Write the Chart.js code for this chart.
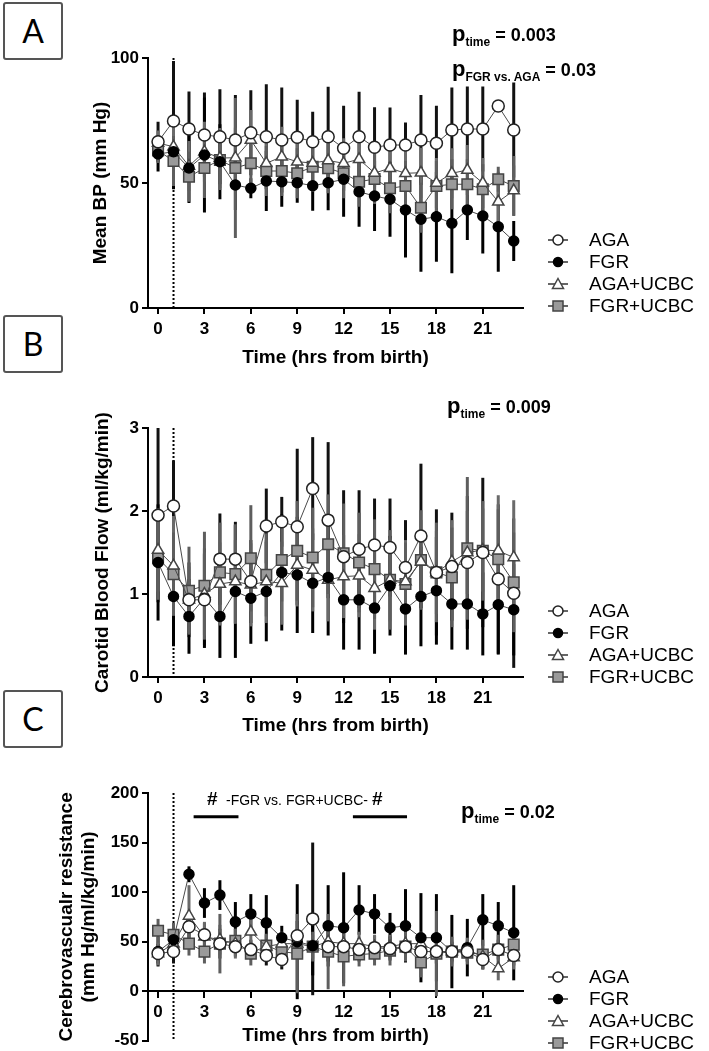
<!DOCTYPE html>
<html>
<head>
<meta charset="utf-8">
<script src="https://cdn.jsdelivr.net/npm/chart.js@4.4.1/dist/chart.umd.min.js"></script>
<style>
  body { margin: 0; background: #fff; width: 709px; height: 1051px; position: relative; overflow: hidden;
         font-family: "Liberation Sans", Arial, sans-serif; color: #000; }
  canvas { position: absolute; left: 0; }
  .box { position: absolute; left: 3px; width: 56px; height: 54px; border: 2px solid #555; border-radius: 3px;
         font-family: Lato, "Open Sans", sans-serif; font-size: 32px; text-align: center; line-height: 54px; }
  .p { position: absolute; font-weight: bold; font-size: 18px; white-space: nowrap; line-height: 22px; }
  .p .pp { font-size: 22px; }
  .p sub { font-size: 12px; vertical-align: -5px; }
  .legend { position: absolute; left: 548px; font-size: 19px; }
  .legend div { height: 22px; display: flex; align-items: center; white-space: nowrap; }
  .legend svg { margin-right: 21px; }
  .sig { position: absolute; white-space: nowrap; }
</style>
</head>
<body>

<div class="box" style="top:2px">A</div>
<div class="box" style="top:315px">B</div>
<div class="box" style="top:690px">C</div>

<canvas id="chartA" width="709" height="369" style="top:0px"></canvas>
<canvas id="chartB" width="709" height="368" style="top:369px"></canvas>
<canvas id="chartC" width="709" height="320" style="top:734px"></canvas>

<div class="p" style="left:452px; top:23px"><span class="pp">p</span><sub>time</sub> = 0.003</div>
<div class="p" style="left:452px; top:58px"><span class="pp">p</span><sub>FGR vs. AGA</sub> = 0.03</div>
<div class="p" style="left:447px; top:395px"><span class="pp">p</span><sub>time</sub> = 0.009</div>
<div class="p" style="left:461px; top:800px"><span class="pp">p</span><sub>time</sub> = 0.02</div>

<div class="sig" style="left:207px; top:788px; font-weight:bold; font-size:19px">#</div>
<div class="sig" style="left:226px; top:792px; font-size:14px">-FGR vs. FGR+UCBC-</div>
<div class="sig" style="left:372px; top:788px; font-weight:bold; font-size:19px">#</div>

<div class="legend" id="legA" style="top:229px"></div>
<div class="legend" id="legB" style="top:600px"></div>
<div class="legend" id="legC" style="top:966px"></div>

<script>
// Sampling hours and axis ticks
const hours = [0, 1, 2, 3, 4, 5, 6, 7, 8, 9, 10, 11, 12, 13, 14, 15, 16, 17, 18, 19, 20, 21, 22, 23];
const xTicks = [0, 3, 6, 9, 12, 15, 18, 21];
const seriesNames = ['AGA', 'FGR', 'AGA+UCBC', 'FGR+UCBC'];

// Panel A: mean BP (mm Hg), mean and SD
const bpAGA  = [66.5, 74.8, 71.6, 69.2, 68.5, 67.2, 70.1, 68.5, 67.2, 68.3, 66.5, 68.5, 63.9, 68.5, 64.3, 65.2, 65.2, 67.2, 65.9, 71.2, 71.6, 71.6, 80.8, 71.2];
const bpFGR  = [61.6, 62.5, 56.0, 61.2, 58.5, 49.2, 47.9, 50.8, 50.5, 50.1, 48.9, 50.1, 51.5, 46.5, 44.8, 43.5, 39.2, 35.5, 36.5, 33.9, 39.2, 36.8, 32.5, 26.8];
const bpAGAU = [66.0, 64.5, 56.8, 62.5, 60.0, 60.1, 67.2, 57.9, 60.5, 58.5, 58.0, 59.0, 57.9, 59.5, 54.0, 55.9, 53.9, 54.1, 50.0, 53.9, 55.2, 50.0, 42.5, 47.0];
const bpFGRU = [63.0, 58.8, 52.5, 56.0, 59.2, 56.0, 57.9, 54.8, 54.8, 53.9, 56.5, 55.9, 53.9, 50.5, 51.6, 47.9, 48.8, 40.1, 48.8, 49.5, 49.5, 47.5, 51.5, 48.8];
const bpAGAsd  = [8, 24, 15, 17, 19, 18, 17, 21, 21, 15, 12, 20, 17, 18, 16, 15, 9, 18, 15, 17, 17, 17, 0, 19];
const bpFGRsd  = [7, 15, 14, 23, 15, 10, 4, 12, 10, 8, 10, 11, 15, 14, 14, 15, 19, 21, 18, 20, 12, 15, 18, 8];
const bpAGAUsd = [5, 12, 10, 12, 12, 12, 12, 10, 12, 10, 10, 10, 10, 10, 10, 10, 10, 10, 10, 10, 10, 10, 12, 10];
const bpFGRUsd = [5, 10, 10, 12, 12, 28, 10, 10, 10, 10, 10, 10, 10, 10, 10, 10, 10, 10, 10, 10, 10, 10, 5, 12];

// Panel B: carotid blood flow (ml/kg/min)
const cbfAGA  = [1.95, 2.06, 0.93, 0.93, 1.42, 1.42, 1.15, 1.82, 1.87, 1.81, 2.27, 1.89, 1.45, 1.54, 1.59, 1.56, 1.32, 1.70, 1.26, 1.33, 1.38, 1.50, 1.18, 1.01];
const cbfFGR  = [1.38, 0.97, 0.73, 0.95, 0.73, 1.03, 0.95, 1.03, 1.26, 1.23, 1.13, 1.20, 0.93, 0.93, 0.83, 1.10, 0.82, 0.97, 1.04, 0.88, 0.88, 0.76, 0.87, 0.81];
const cbfAGAU = [1.53, 1.34, 0.93, 1.00, 1.12, 1.15, 1.11, 1.15, 1.13, 1.35, 1.29, 1.17, 1.21, 1.22, 1.07, 1.17, 1.15, 1.39, 1.26, 1.39, 1.50, 1.53, 1.52, 1.44];
const cbfFGRU = [1.43, 1.24, 1.04, 1.10, 1.26, 1.24, 1.43, 1.23, 1.41, 1.52, 1.44, 1.60, 1.49, 1.38, 1.30, 1.17, 1.12, 1.41, 1.26, 1.20, 1.55, 1.52, 1.42, 1.14];
const cbfAGAsd  = [1.05, 0.55, 0.45, 0.55, 0.55, 0.45, 0.5, 0.45, 0.3, 0.94, 0.62, 0.94, 0.8, 0.71, 0.56, 0.59, 0.57, 0.87, 0.76, 0.65, 0.8, 0.9, 0.9, 0.9];
const cbfFGRsd  = [0.7, 0.6, 0.45, 0.6, 0.5, 0.8, 0.55, 0.6, 0.7, 0.7, 0.6, 0.7, 0.6, 0.6, 0.55, 0.6, 0.55, 0.6, 0.65, 0.55, 0.55, 0.5, 0.6, 0.55];
const cbfAGAUsd = [0.5, 0.6, 0.4, 0.5, 0.5, 0.5, 0.5, 0.5, 0.5, 0.5, 0.5, 0.5, 0.5, 0.5, 0.5, 0.5, 0.5, 0.5, 0.5, 0.5, 0.5, 0.5, 0.67, 0.69];
const cbfFGRUsd = [0.5, 0.5, 0.53, 0.65, 0.6, 0.6, 0.64, 0.5, 0.5, 0.6, 0.6, 0.6, 0.6, 0.6, 0.6, 0.6, 0.5, 0.6, 0.6, 0.6, 0.86, 0.6, 0.6, 0.6];

// Panel C: cerebrovascular resistance (mm Hg/ml/kg/min)
const cvrAGA  = [38, 40, 65, 57, 48, 45, 42, 36, 32, 56, 73, 45, 45, 42, 44, 43, 45, 40, 40, 40, 40, 32, 42, 36];
const cvrFGR  = [40, 52, 118, 89, 97, 70, 78, 69, 54, 50, 46, 66, 64, 82, 78, 64, 66, 54, 54, 40, 44, 72, 66, 59];
const cvrAGAU = [38, 48, 76, 55, 52, 48, 60, 45, 48, 48, 45, 50, 48, 48, 45, 45, 48, 48, 40, 40, 42, 35, 23, 34];
const cvrFGRU = [61, 57, 48, 40, 48, 51, 38, 46, 40, 38, 45, 40, 35, 37, 38, 41, 45, 29, 38, 40, 39, 37, 42, 47];
const cvrAGAsd  = [10, 12, 15, 12, 15, 10, 10, 10, 10, 15, 77, 15, 15, 12, 12, 12, 12, 12, 12, 10, 10, 10, 10, 10];
const cvrFGRsd  = [15, 15, 8, 15, 15, 20, 20, 28, 12, 58, 30, 41, 56, 25, 20, 15, 37, 45, 44, 37, 29, 26, 24, 48];
const cvrAGAUsd = [12, 12, 31, 15, 15, 15, 15, 12, 12, 12, 12, 12, 12, 12, 12, 12, 12, 12, 12, 12, 12, 12, 12, 12];
const cvrFGRUsd = [12, 12, 12, 12, 30, 12, 12, 12, 15, 40, 15, 38, 30, 12, 12, 15, 15, 15, 43, 15, 12, 15, 15, 15];

// "#" brackets in panel C (FGR vs. FGR+UCBC), in hours and value units
const sigBars = [[2.3, 5.2, 176], [12.6, 16.1, 176]];

const FONT = '"Liberation Sans", Arial, sans-serif';

const seriesStyle = [
    { pointStyle: 'circle',   radius: 6,   bg: '#ffffff', border: '#222', err: '#111' },
    { pointStyle: 'circle',   radius: 5,   bg: '#000000', border: '#000', err: '#000' },
    { pointStyle: 'triangle', radius: 6.5, bg: '#ffffff', border: '#444', err: '#6a6a6a' },
    { pointStyle: 'rect',     radius: 7.5, bg: '#9a9a9a', border: '#444', err: '#5e5e5e' }
];

// Error bars, birth marker (dotted) and significance brackets, all through the scales.
const extrasPlugin = {
    id: 'extras',
    beforeDatasetsDraw(chart, args, opts) {
        const { ctx, scales: { x, y } } = chart;
        ctx.save();
        if (opts.marker) {
            ctx.strokeStyle = '#000';
            ctx.lineWidth = 2;
            ctx.setLineDash([2, 2]);
            const mx = x.getPixelForValue(opts.marker[0]);
            ctx.beginPath();
            ctx.moveTo(mx, y.getPixelForValue(opts.marker[1]));
            ctx.lineTo(mx, y.getPixelForValue(opts.marker[2]));
            ctx.stroke();
            ctx.setLineDash([]);
        }
        chart.data.datasets.forEach(function(ds) {
            ctx.strokeStyle = ds.errorColor;
            ctx.lineWidth = 3;
            ds.data.forEach(function(pt, i) {
                const e = ds.errors[i];
                if (!e) return;
                const px = x.getPixelForValue(pt.x);
                ctx.beginPath();
                ctx.moveTo(px, y.getPixelForValue(pt.y - e));
                ctx.lineTo(px, y.getPixelForValue(pt.y + e));
                ctx.stroke();
            });
        });
        ctx.restore();
    },
    afterDatasetsDraw(chart, args, opts) {
        if (!opts.bars) return;
        const { ctx, scales: { x, y } } = chart;
        ctx.save();
        ctx.strokeStyle = '#000';
        ctx.lineWidth = 3;
        opts.bars.forEach(function(b) {
            const py = y.getPixelForValue(b[2]);
            ctx.beginPath();
            ctx.moveTo(x.getPixelForValue(b[0]), py);
            ctx.lineTo(x.getPixelForValue(b[1]), py);
            ctx.stroke();
        });
        ctx.restore();
    }
};

function makeDatasets(means, sds) {
    return means.map(function(vals, k) {
        const st = seriesStyle[k];
        return {
            label: seriesNames[k],
            data: vals.map(function(v, i) { return { x: hours[i], y: v }; }),
            errors: sds[k],
            errorColor: st.err,
            borderColor: '#4a4a4a',
            borderWidth: 1,
            pointStyle: st.pointStyle,
            pointRadius: st.radius,
            pointBackgroundColor: st.bg,
            pointBorderColor: st.border,
            pointBorderWidth: 1.5,
            tension: 0,
            fill: false
        };
    });
}

function axisCommon() {
    return {
        grid: { drawOnChartArea: false, drawTicks: true, tickLength: 6, color: '#000', lineWidth: 2 },
        border: { color: '#000', width: 2 },
        ticks: { color: '#000', font: { family: FONT, size: 17, weight: 'bold' } }
    };
}

function makePanel(id, cfg) {
    const xAxis = axisCommon();
    Object.assign(xAxis, {
        type: 'linear', min: -0.65, max: 23.6,
        afterBuildTicks: function(s) { s.ticks = xTicks.map(function(v) { return { value: v }; }); },
        afterFit: function(s) { s.height = cfg.xHeight; },
        title: { display: true, text: 'Time (hrs from birth)', color: '#000', padding: 0,
                 font: { family: FONT, size: 19, weight: 'bold' } }
    });
    xAxis.ticks.padding = 5;
    xAxis.ticks.maxRotation = 0;
    if (cfg.xPosition !== undefined) xAxis.position = cfg.xPosition;

    const yAxis = axisCommon();
    Object.assign(yAxis, {
        min: cfg.yMin, max: cfg.yMax,
        afterBuildTicks: function(s) { s.ticks = cfg.yTicks.map(function(v) { return { value: v }; }); },
        afterFit: function(s) { s.width = 148; },
        title: { display: true, text: cfg.yTitle, color: '#000', padding: { top: cfg.yTitlePad, bottom: 0 },
                 font: { family: FONT, size: 19, weight: 'bold' } }
    });
    yAxis.ticks.padding = 3;

    return new Chart(document.getElementById(id), {
        type: 'line',
        data: { datasets: makeDatasets(cfg.means, cfg.sds) },
        options: {
            responsive: false,
            animation: false,
            devicePixelRatio: 1,
            layout: { padding: cfg.padding },
            plugins: {
                legend: { display: false },
                tooltip: { enabled: false },
                extras: { marker: cfg.marker, bars: cfg.bars }
            },
            scales: { x: xAxis, y: yAxis }
        },
        plugins: [extrasPlugin]
    });
}

makePanel('chartA', {
    means: [bpAGA, bpFGR, bpAGAU, bpFGRU],
    sds: [bpAGAsd, bpFGRsd, bpAGAUsd, bpFGRUsd],
    yMin: 0, yMax: 100, yTicks: [0, 50, 100],
    yTitle: 'Mean BP (mm Hg)', yTitlePad: 89,
    padding: { top: 58, right: 186, bottom: 0, left: 0 },
    xHeight: 61,
    marker: [1, 100, 0]
});

makePanel('chartB', {
    means: [cbfAGA, cbfFGR, cbfAGAU, cbfFGRU],
    sds: [cbfAGAsd, cbfFGRsd, cbfAGAUsd, cbfFGRUsd],
    yMin: 0, yMax: 3, yTicks: [0, 1, 2, 3],
    yTitle: 'Carotid Blood Flow (ml/kg/min)', yTitlePad: 91,
    padding: { top: 59, right: 186, bottom: 0, left: 0 },
    xHeight: 60,
    marker: [1, 3, 0]
});

makePanel('chartC', {
    means: [cvrAGA, cvrFGR, cvrAGAU, cvrFGRU],
    sds: [cvrAGAsd, cvrFGRsd, cvrAGAUsd, cvrFGRUsd],
    yMin: -50, yMax: 200, yTicks: [-50, 0, 50, 100, 150, 200],
    yTitle: ['Cerebrovascualr resistance', '(mm Hg/ml/kg/min)'], yTitlePad: 55,
    padding: { top: 59, right: 186, bottom: 10, left: 0 },
    xHeight: 56,
    xPosition: { y: 0 },
    marker: [1, 200, -50],
    bars: sigBars
});

// HTML legends: line with the series marker, then the name
function markerSvg(k) {
    const st = seriesStyle[k];
    let shape;
    if (st.pointStyle === 'circle') {
        shape = '<circle cx="10" cy="8" r="' + (k === 1 ? 4.5 : 5) + '" fill="' + st.bg + '" stroke="' + st.border + '" stroke-width="1.5"/>';
    } else if (st.pointStyle === 'triangle') {
        shape = '<polygon points="10,2.5 15.5,12.5 4.5,12.5" fill="' + st.bg + '" stroke="' + st.border + '" stroke-width="1.5"/>';
    } else {
        shape = '<rect x="5" y="3" width="10" height="10" fill="' + st.bg + '" stroke="' + st.border + '" stroke-width="1.5"/>';
    }
    return '<svg width="20" height="16"><line x1="0" y1="8" x2="20" y2="8" stroke="#333" stroke-width="1.5"/>' + shape + '</svg>';
}
['legA', 'legB', 'legC'].forEach(function(id) {
    document.getElementById(id).innerHTML = seriesNames.map(function(n, k) {
        return '<div>' + markerSvg(k) + '<span>' + n + '</span></div>';
    }).join('');
});
</script>
</body>
</html>
